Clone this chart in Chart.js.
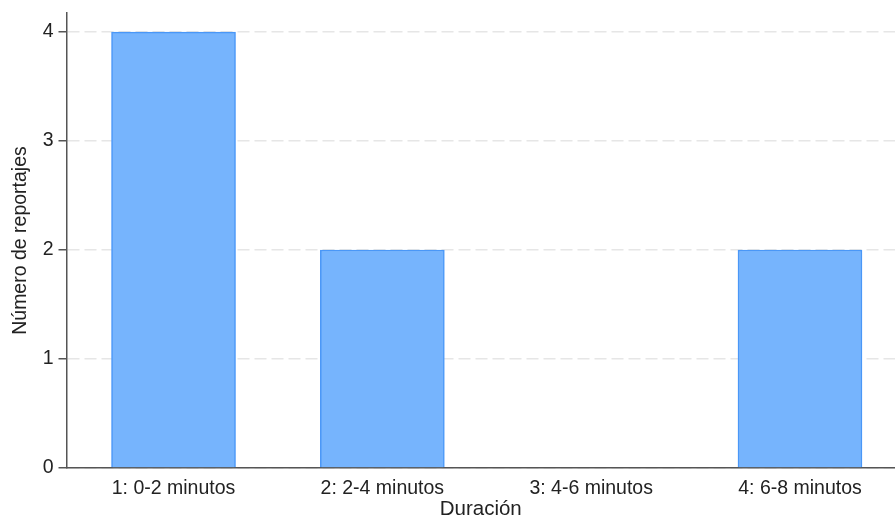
<!DOCTYPE html>
<html>
<head>
<meta charset="utf-8">
<script src="https://cdn.jsdelivr.net/npm/chart.js@4"></script>
<style>
  html, body { margin: 0; padding: 0; background: #fff; overflow: hidden; }
</style>
</head>
<body>
<canvas id="c" width="895" height="520"></canvas>
<script>
var categorias = ['1: 0-2 minutos', '2: 2-4 minutos', '3: 4-6 minutos', '4: 6-8 minutos'];
var posiciones = [1, 2, 3, 4];
var reportajes = [4, 2, 0, 2];
var yTicks = [0, 1, 2, 3, 4];

var font = { family: '"Liberation Sans", Arial, sans-serif', size: 19.5 };
var titleFont = { family: '"Liberation Sans", Arial, sans-serif', size: 20.5, lineHeight: 1 };
var ink = '#222';

var puntos = posiciones.map(function (p, i) { return { x: p, y: reportajes[i] }; });

new Chart(document.getElementById('c'), {
  type: 'bar',
  data: {
    datasets: [{
      data: puntos,
      backgroundColor: '#76b4fd',
      borderColor: '#4a97f7',
      borderWidth: 1.5,
      barThickness: 124
    }]
  },
  options: {
    responsive: false,
    animation: false,
    layout: { padding: { top: 13, right: 0, left: 0, bottom: 0 } },
    plugins: { legend: { display: false }, tooltip: { enabled: false } },
    scales: {
      x: {
        type: 'linear',
        min: 0.4875,
        max: 4.455,
        offset: false,
        grid: { display: false, drawTicks: false },
        border: { display: true, color: '#555', width: 1.5 },
        afterBuildTicks: function (s) { s.ticks = posiciones.map(function (v) { return { value: v }; }); },
        afterFit: function (s) { s.height = 52; s.paddingLeft = 0; s.paddingRight = 0; },
        ticks: {
          autoSkip: false, maxRotation: 0, padding: 9, color: ink, font: font,
          callback: function (v) { return categorias[v - 1]; }
        },
        title: { display: true, text: 'Duración', color: ink, font: titleFont, padding: { top: 0, bottom: 0 } }
      },
      y: {
        min: 0,
        max: 4.175,
        afterBuildTicks: function (s) { s.ticks = yTicks.map(function (v) { return { value: v }; }); },
        afterFit: function (s) { s.width = 66.5; s.paddingTop = 0; s.paddingBottom = 0; },
        grid: {
          color: '#e6e6e6', lineWidth: 1.5,
          drawTicks: true, tickLength: 8, tickColor: '#555', tickWidth: 1.5, tickBorderDash: []
        },
        border: { display: true, color: '#555', width: 1.5, dash: [12, 5] },
        ticks: { padding: 5, color: ink, font: font },
        title: { display: true, text: 'Número de reportajes', color: ink, font: font, padding: { top: 9, bottom: 0 } }
      }
    }
  }
});
</script>
</body>
</html>
